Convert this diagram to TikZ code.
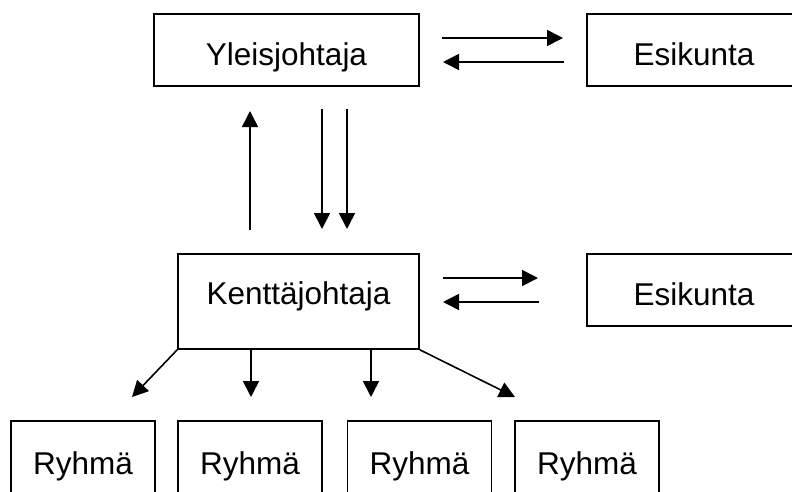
\documentclass[tikz,border=0pt]{standalone}
\usepackage{fontspec}
\setmainfont{Liberation Sans}
\usetikzlibrary{arrows.meta}
\begin{document}
\begin{tikzpicture}[x=1pt, y=-1pt,
  box/.style={draw, line width=1.5pt, inner sep=0pt, minimum height=72pt,
    font=\fontsize{31.5}{37}\selectfont, text height=30pt, text depth=0pt},
  link/.style={line width=1.6pt, -{Triangle[length=16pt,width=16pt]}}]
\useasboundingbox (0,0) rectangle (792,491);
\begin{scope}
\clip (0,0) rectangle (792,491);
% top row
\node[box, minimum width=265pt] (yj) at (286.5,50) {Yleisjohtaja};
\node[box, minimum width=214pt] (es1) at (694,50) {Esikunta};
% middle row
\node[box, minimum width=241pt, minimum height=95pt, text height=22pt, text depth=17pt] (kj) at (298.5,301.5) {Kenttäjohtaja};
\node[box, minimum width=214pt] (es2) at (694,290) {Esikunta};
% groups
\node[box, minimum width=144pt, text height=34pt] (r1) at (83,457) {Ryhmä};
\node[box, minimum width=144pt, text height=34pt] (r2) at (250,457) {Ryhmä};
\node[box, minimum width=144pt, text height=34pt] (r3) at (419.5,457) {Ryhmä};
\node[box, minimum width=144pt, text height=34pt] (r4) at (587,457) {Ryhmä};
\end{scope}
% arrow ends
\coordinate (t1a) at (442,38);  \coordinate (t1b) at (563,38);
\coordinate (t2a) at (564,62);  \coordinate (t2b) at (443,62);
\coordinate (ua) at (250,230);  \coordinate (ub) at (250,111);
\coordinate (d1a) at (322,109); \coordinate (d1b) at (322,229);
\coordinate (d2a) at (347,109); \coordinate (d2b) at (347,229);
\coordinate (m1a) at (443,278); \coordinate (m1b) at (538,278);
\coordinate (m2a) at (539,302); \coordinate (m2b) at (443,302);
\coordinate (b1) at (132,397);
\coordinate (b2a) at (251,350); \coordinate (b2b) at (251,397);
\coordinate (b3a) at (371,350); \coordinate (b3b) at (371,397);
\coordinate (b4) at (515,397);
% connectors
\draw[link] (t1a) -- (t1b);
\draw[link] (t2a) -- (t2b);
\draw[link] (ua) -- (ub);
\draw[link] (d1a) -- (d1b);
\draw[link] (d2a) -- (d2b);
\draw[link] (m1a) -- (m1b);
\draw[link] (m2a) -- (m2b);
\draw[link] (kj.south west) -- (b1);
\draw[link] (b2a) -- (b2b);
\draw[link] (b3a) -- (b3b);
\draw[link] (kj.south east) -- (b4);
\end{tikzpicture}
\end{document}
